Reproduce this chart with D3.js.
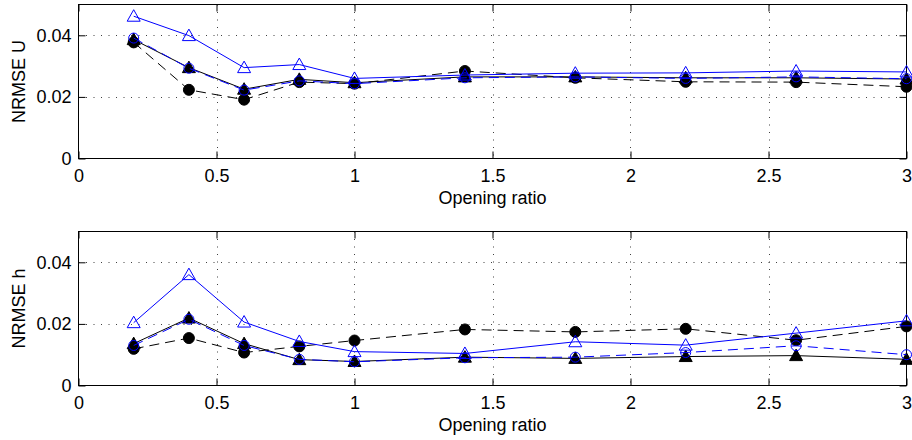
<!DOCTYPE html>
<html>
<head>
<meta charset="utf-8">
<script src="https://cdn.jsdelivr.net/npm/d3@7"></script>
<style>
    body { margin: 0; background: #fff; }
    svg text { font-family: 'Liberation Sans', Arial, sans-serif; fill: #000; }
</style>
</head>
<body>
<div class="chart-container"></div>
<script>
// Data
const ratios = [0.2, 0.4, 0.6, 0.8, 1.0, 1.4, 1.8, 2.2, 2.6, 3.0];

// NRMSE U
const uBlueTri   = [0.0462, 0.0399, 0.0295, 0.0305, 0.0260, 0.0271, 0.0277, 0.0278, 0.0284, 0.0281];
const uBlueCirc  = [0.0391, 0.0293, 0.0222, 0.0252, 0.0243, 0.0262, 0.0265, 0.0260, 0.0265, 0.0259];
const uBlackTri  = [0.0386, 0.0295, 0.0225, 0.0257, 0.0246, 0.0265, 0.0265, 0.0262, 0.0262, 0.0258];
const uBlackCirc = [0.0377, 0.0223, 0.0191, 0.0248, 0.0243, 0.0284, 0.0262, 0.0249, 0.0248, 0.0233];

// NRMSE h
const hBlueTri   = [0.0204, 0.0360, 0.0206, 0.0143, 0.0110, 0.0104, 0.0142, 0.0131, 0.0170, 0.0210];
const hBlueCirc  = [0.0130, 0.0215, 0.0130, 0.0085, 0.0077, 0.0090, 0.0092, 0.0107, 0.0129, 0.0100];
const hBlackTri  = [0.0136, 0.0219, 0.0136, 0.0084, 0.0078, 0.0092, 0.0088, 0.0094, 0.0097, 0.0085];
const hBlackCirc = [0.0119, 0.0154, 0.0107, 0.0127, 0.0146, 0.0182, 0.0174, 0.0184, 0.0147, 0.0192];

// Tick labels
const xTicks = [0, 0.5, 1, 1.5, 2, 2.5, 3];
const yTicks = [0, 0.02, 0.04];
const xTitle = 'Opening ratio';

const panels = [
    {
        label: 'NRMSE U',
        top: 4.5,
        series: [
            { values: uBlackCirc, color: '#000', dash: '10,6', marker: 'circle', filled: true },
            { values: uBlackTri, color: '#000', dash: null, marker: 'triangle', filled: true },
            { values: uBlueCirc, color: '#0000ff', dash: '10,6', marker: 'circle', filled: false },
            { values: uBlueTri, color: '#0000ff', dash: null, marker: 'triangle', filled: false },
        ],
    },
    {
        label: 'NRMSE h',
        top: 231.5,
        series: [
            { values: hBlackCirc, color: '#000', dash: '10,6', marker: 'circle', filled: true },
            { values: hBlackTri, color: '#000', dash: null, marker: 'triangle', filled: true },
            { values: hBlueCirc, color: '#0000ff', dash: '10,6', marker: 'circle', filled: false },
            { values: hBlueTri, color: '#0000ff', dash: null, marker: 'triangle', filled: false },
        ],
    },
];

// Layout
const svgWidth = 912;
const svgHeight = 440;
const left = 78.5;
const right = 906.5;
const panelHeight = 154;
const fontSize = 18;

const svg = d3.select('.chart-container')
    .append('svg')
    .attr('width', svgWidth)
    .attr('height', svgHeight);

const xScale = d3.scaleLinear().domain([0, 3]).range([left, right]);

const trianglePath = 'M0,-6.5L6.5,5L-6.5,5Z';

panels.forEach(p => {
    const bottom = p.top + panelHeight;
    const yScale = d3.scaleLinear().domain([0, 0.05]).range([bottom, p.top]);

    const g = svg.append('g');

    // Grid (dotted)
    g.selectAll('.vgrid')
        .data(xTicks.filter(d => d > 0 && d < 3))
        .enter()
        .append('line')
        .attr('x1', d => Math.round(xScale(d)) + 0.5)
        .attr('x2', d => Math.round(xScale(d)) + 0.5)
        .attr('y1', p.top)
        .attr('y2', bottom)
        .attr('stroke', '#000')
        .attr('stroke-opacity', 0.75)
        .attr('stroke-dasharray', '1,6.5');

    g.selectAll('.hgrid')
        .data(yTicks.filter(d => d > 0))
        .enter()
        .append('line')
        .attr('x1', left)
        .attr('x2', right)
        .attr('y1', d => Math.round(yScale(d)) + 0.5)
        .attr('y2', d => Math.round(yScale(d)) + 0.5)
        .attr('stroke', '#000')
        .attr('stroke-opacity', 0.75)
        .attr('stroke-dasharray', '1,6.5');

    // Axes with inward ticks
    const xAxis = d3.axisBottom(xScale)
        .tickValues(xTicks)
        .tickFormat(d => String(d))
        .tickSizeInner(-7)
        .tickSizeOuter(0)
        .tickPadding(11);
    const xAxisDraw = g.append('g').attr('transform', 'translate(0,' + bottom + ')');
    xAxis(xAxisDraw);

    const xAxisTop = d3.axisTop(xScale).tickValues(xTicks).tickFormat('').tickSizeInner(-7).tickSizeOuter(0);
    xAxisTop(g.append('g').attr('transform', 'translate(0,' + p.top + ')'));

    const yAxis = d3.axisLeft(yScale)
        .tickValues(yTicks)
        .tickFormat(d => String(d))
        .tickSizeInner(-7)
        .tickSizeOuter(0)
        .tickPadding(7);
    const yAxisDraw = g.append('g').attr('transform', 'translate(' + left + ',0)');
    yAxis(yAxisDraw);

    const yAxisRight = d3.axisRight(yScale).tickValues(yTicks).tickFormat('').tickSizeInner(-7).tickSizeOuter(0);
    yAxisRight(g.append('g').attr('transform', 'translate(' + right + ',0)'));

    g.selectAll('.domain').remove();
    g.selectAll('.tick line').attr('stroke', '#000');
    g.selectAll('.tick text').style('font-size', fontSize + 'px');

    // Frame
    g.append('rect')
        .attr('x', left)
        .attr('y', p.top)
        .attr('width', right - left)
        .attr('height', panelHeight)
        .attr('fill', 'none')
        .attr('stroke', '#000')
        .attr('stroke-width', 1);

    // Series
    const line = d3.line()
        .x((d, i) => xScale(ratios[i]))
        .y(d => yScale(d));

    p.series.forEach(s => {
        g.append('path')
            .datum(s.values)
            .attr('d', line)
            .attr('fill', 'none')
            .attr('stroke', s.color)
            .attr('stroke-width', 1)
            .attr('stroke-dasharray', s.dash);

        const marks = g.selectAll(null)
            .data(s.values)
            .enter();

        if (s.marker === 'circle') {
            marks.append('circle')
                .attr('cx', (d, i) => xScale(ratios[i]))
                .attr('cy', d => yScale(d))
                .attr('r', s.filled ? 5.5 : 5)
                .attr('fill', s.filled ? s.color : 'none')
                .attr('stroke', s.color)
                .attr('stroke-width', 1);
        } else {
            marks.append('path')
                .attr('d', trianglePath)
                .attr('transform', (d, i) => 'translate(' + xScale(ratios[i]) + ',' + yScale(d) + ')')
                .attr('fill', s.filled ? s.color : 'none')
                .attr('stroke', s.color)
                .attr('stroke-width', 1);
        }
    });

    // Axis titles
    g.append('text')
        .attr('x', (left + right) / 2)
        .attr('y', bottom + 45)
        .attr('text-anchor', 'middle')
        .style('font-size', fontSize + 'px')
        .text(xTitle);

    g.append('text')
        .attr('transform', 'translate(25,' + (p.top + panelHeight / 2) + ') rotate(-90)')
        .attr('text-anchor', 'middle')
        .style('font-size', fontSize + 'px')
        .text(p.label);
});
</script>
</body>
</html>
